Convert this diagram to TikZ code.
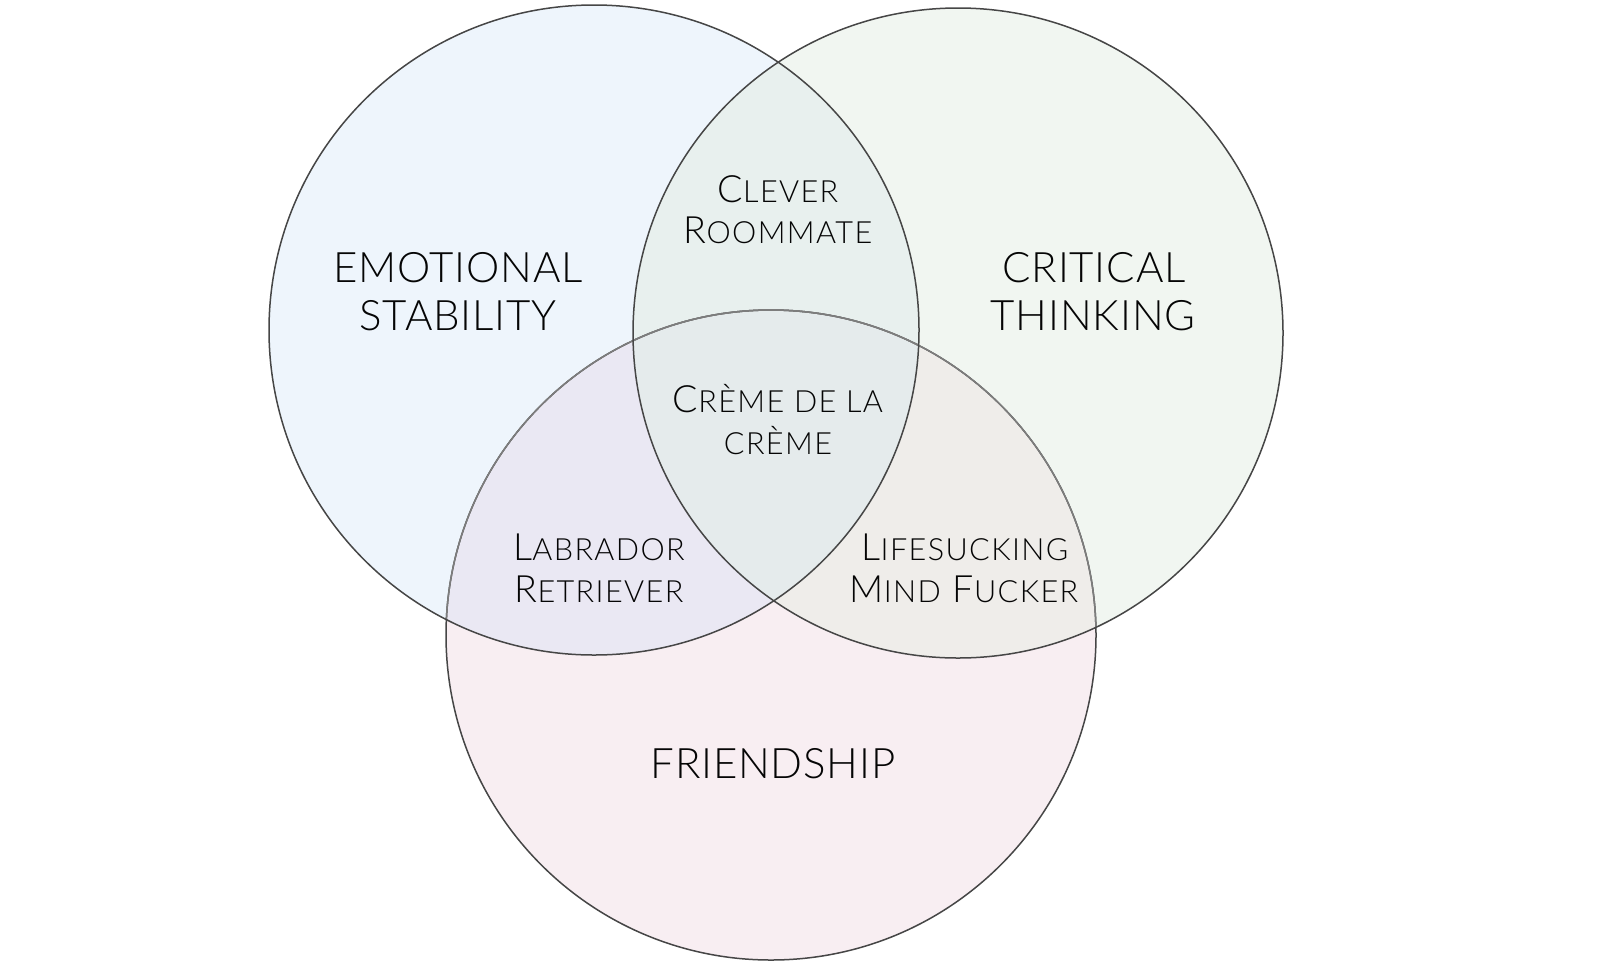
\documentclass[tikz,border=0pt]{standalone}
\usepackage{fontspec}
\IfFontExistsTF{Lato Light}{\setmainfont{Lato Light}}{\setmainfont{Lato}}
\definecolor{cB}{RGB}{238,245,252}
\definecolor{cG}{RGB}{241,246,241}
\definecolor{cP}{RGB}{248,238,242}
\definecolor{cBG}{RGB}{232,240,238}
\definecolor{cBP}{RGB}{234,232,243}
\definecolor{cGP}{RGB}{239,237,234}
\definecolor{cBGP}{RGB}{229,235,236}
\definecolor{edge}{RGB}{70,70,70}
\definecolor{edgelight}{RGB}{125,125,125}
\definecolor{ink}{RGB}{5,5,5}
\newcommand\scsmall{\fontsize{15.3}{18}\selectfont}
\newcommand\SCw[2]{#1{\scsmall #2}}
\tikzset{
  biglabel/.style={font=\fontsize{21}{24}\selectfont\addfontfeatures{LetterSpace=2}, anchor=base, inner sep=0pt, text=ink},
  sclabel/.style={font=\fontsize{18.8}{20}\selectfont\addfontfeatures{LetterSpace=4.5}, anchor=base, inner sep=0pt, text=ink},
  ring/.style={draw=edge, line width=0.75pt},
}
\begin{document}
\begin{tikzpicture}[x=0.5pt,y=-0.5pt]
\useasboundingbox (0,0) rectangle (1600,970);
\fill[white] (0,0) rectangle (1600,970);
\coordinate (cb) at (594,330);
\coordinate (cg) at (958,333);
\coordinate (cp) at (771,635);
\def\R{325}
% base fills
\fill[cB] (cb) circle (\R);
\fill[cG] (cg) circle (\R);
\fill[cP] (cp) circle (\R);
% pairwise overlaps
\begin{scope}\clip (cb) circle (\R); \fill[cBG] (cg) circle (\R); \end{scope}
\begin{scope}\clip (cb) circle (\R); \fill[cBP] (cp) circle (\R); \end{scope}
\begin{scope}\clip (cg) circle (\R); \fill[cGP] (cp) circle (\R); \end{scope}
\begin{scope}\clip (cb) circle (\R); \clip (cg) circle (\R); \fill[cBGP] (cp) circle (\R); \end{scope}
% outlines
\draw[ring] (cp) circle (\R);
\begin{scope}\clip (cb) circle (\R); \draw[ring, draw=edgelight] (cp) circle (\R); \end{scope}
\begin{scope}\clip (cg) circle (\R); \draw[ring, draw=edgelight] (cp) circle (\R); \end{scope}
\draw[ring] (cb) circle (\R);
\draw[ring] (cg) circle (\R);
% main labels
\node[biglabel] (emo1) at (458,282) {EMOTIONAL};
\node[biglabel] (emo2) at (458,330) {STABILITY};
\node[biglabel] (cri1) at (1094,282) {CRITICAL};
\node[biglabel] (cri2) at (1093,330) {THINKING};
\node[biglabel] (fri) at (773,778) {FRIENDSHIP};
% intersection labels
\node[sclabel] (clv1) at (778,202) {\SCw{C}{LEVER}};
\node[sclabel] (clv2) at (778,243) {\SCw{R}{OOMMATE}};
\node[sclabel] (crm1) at (778,412) {\SCw{C}{RÈME DE LA}};
\node[sclabel] (crm2) at (778,454) {{\scsmall CRÈME}};
\node[sclabel] (lab1) at (599,560) {\SCw{L}{ABRADOR}};
\node[sclabel] (lab2) at (599,602) {\SCw{R}{ETRIEVER}};
\node[sclabel] (lif1) at (965,560) {\SCw{L}{IFESUCKING}};
\node[sclabel] (lif2) at (964,602) {\SCw{M}{IND} \SCw{F}{UCKER}};
\end{tikzpicture}
\end{document}
